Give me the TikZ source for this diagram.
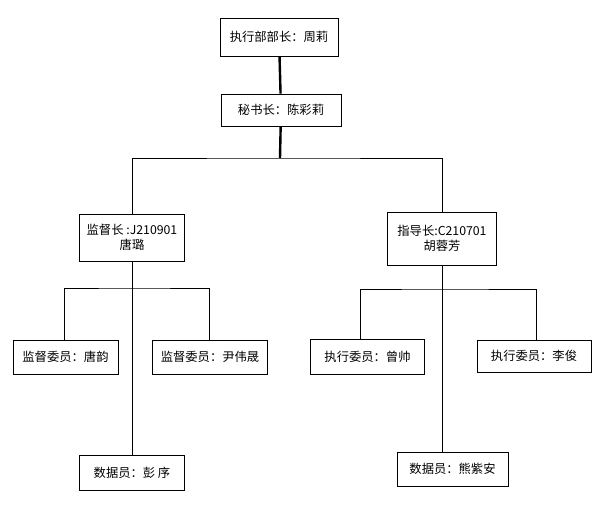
\documentclass[tikz,border=0pt]{standalone}
\usepackage{fontspec}
\newfontfamily\cjk{Noto Sans CJK SC}
\usetikzlibrary{positioning}

\begin{document}
\begin{tikzpicture}[x=1pt, y=-1pt, every node/.style={font=\cjk\fontsize{12.3}{15}\selectfont},
	role/.style={draw, line width=0.9pt, fill=white, align=center, inner sep=2pt},
	link/.style={line width=0.9pt}, boldlink/.style={line width=2.4pt}]
	\useasboundingbox (0,0) rectangle (597,517);
	\node[role, minimum width=118, minimum height=38] (head) at (279,37) {执行部部长：周莉};
	\node[role, minimum width=120, minimum height=32] (sec) at (281,110) {秘书长：陈彩莉};
	\coordinate (bar) at (280,158);
	\node[role, minimum width=105, minimum height=47] (sup) at (132,237.5) {监督长 :J210901\\唐璐};
	\node[role, minimum width=109, minimum height=53] (guide) at (442,238.5) {指导长:C210701\\胡蓉芳};
	% supervision group
	\node[role, minimum width=105, minimum height=34] (mem1) at (65.5,357) {监督委员：唐韵};
	\node[role, minimum width=115, minimum height=34] (mem2) at (210,357) {监督委员：尹伟晟};
	\node[role, minimum width=105, minimum height=35] (data1) at (132,472.5) {数据员：彭 序};
	\coordinate (supbar) at (132,288);
	% execution group
	\node[role, minimum width=114, minimum height=35] (exe1) at (367.5,356.5) {执行委员：曾帅};
	\node[role, minimum width=114, minimum height=32] (exe2) at (534,356) {执行委员：李俊};
	\node[role, minimum width=111, minimum height=34] (data2) at (452.5,469) {数据员：熊紫安};
	\coordinate (guidebar) at (442,289);
	\draw[boldlink] (head) -- (sec);
	\draw[boldlink] (sec) -- (bar);
	\draw[link] (sup.north) |- (bar) -| (guide.north);
	\draw[link] (sup.south) -- (data1.north);
	\draw[link] ([xshift=-1.5pt]mem1.north) |- (supbar) -| ([xshift=-1pt]mem2.north);
	\draw[link] (guide.south) -- (guide.south |- data2.north);
	\draw[link] ([xshift=-7.5pt]exe1.north) |- (guidebar) -| ([xshift=2pt]exe2.north);
\end{tikzpicture}
\end{document}
